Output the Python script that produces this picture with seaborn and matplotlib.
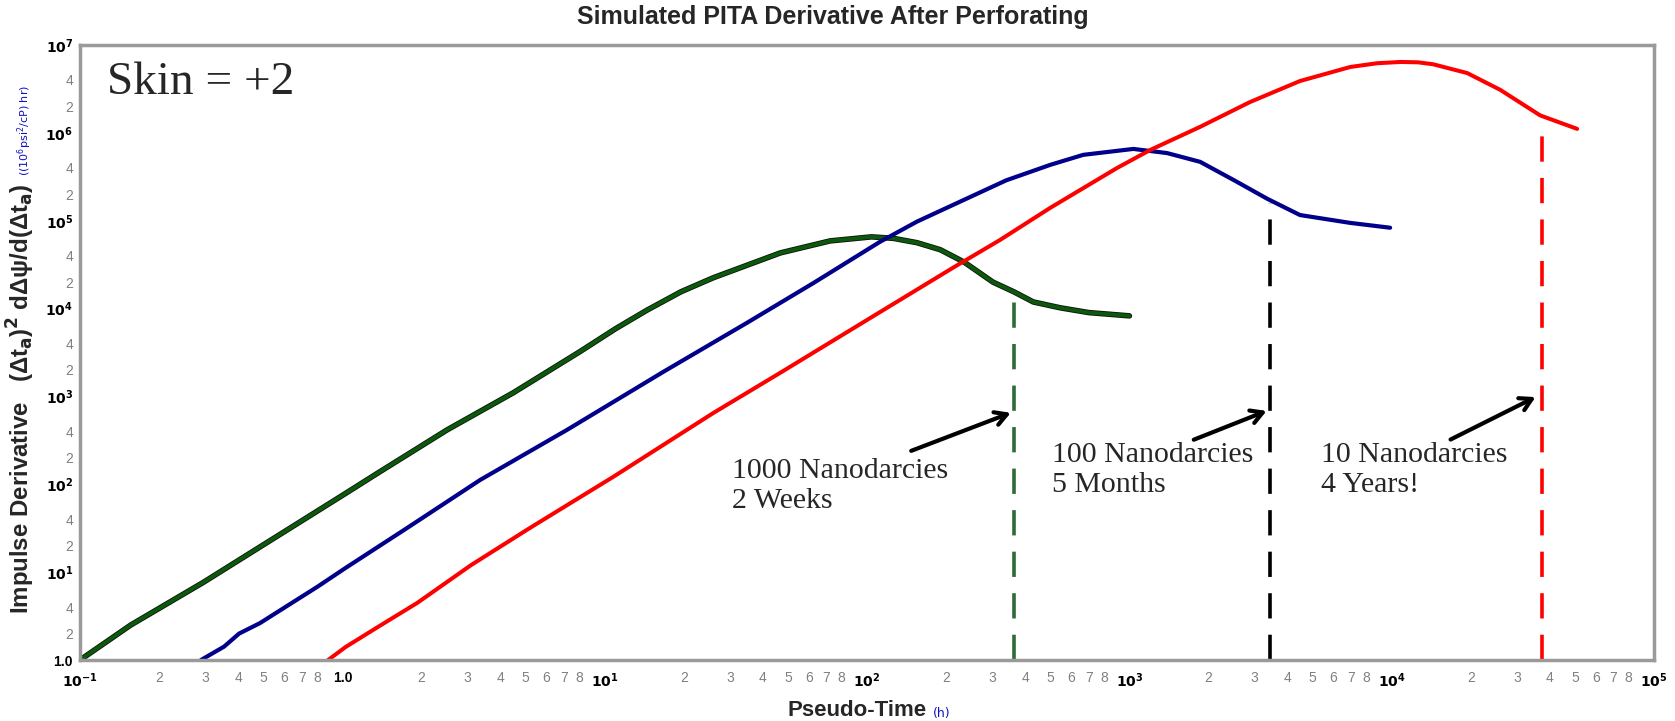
import matplotlib
matplotlib.use("Agg")
import matplotlib.pyplot as plt
import matplotlib.patheffects as pe
import pandas as pd
import seaborn as sns

# (pseudo-time in h, impulse derivative)
green_t = [0.1, 0.156, 0.294, 1.03, 1.39, 2.51, 4.48, 8.05, 11.0, 14.5, 19.5, 25.9, 46.7, 72.3,
           104, 126, 155, 190, 234, 302, 363, 430, 545, 700, 1000]
green_d = [1.0, 2.5, 7.6, 79, 139, 417, 1100, 3240, 5900, 9600, 15500, 22400, 43000, 58900,
           65500, 63000, 56200, 46800, 33900, 20000, 15500, 11900, 10200, 9000, 8260]

blue_t = [0.289, 0.354, 0.404, 0.485, 0.802, 1.03, 1.77, 3.35, 7.19, 16.7, 34.9, 62.4, 112,
          155, 339, 499, 667, 1035, 1390, 1860, 2510, 3350, 4470, 6950, 9860]
blue_d = [1.0, 1.42, 2.0, 2.63, 6.8, 11.2, 32, 112, 417, 1900, 6900, 19500, 57500,
          97700, 288000, 432000, 562000, 656000, 589000, 468000, 288000, 178000, 116000,
          94400, 83200]

red_t = [0.882, 1.03, 1.37, 1.93, 3.09, 5.2, 10.8, 25.9, 46.7, 112, 214, 321, 499, 897,
         1200, 1860, 2880, 4470, 6950, 8800, 10800, 12600, 14400, 19400, 25900, 36800, 50900]
red_d = [1.0, 1.41, 2.39, 4.47, 12.0, 32, 122, 646, 1860, 9120, 29500, 60300, 140000,
         398000, 638000, 1.17e6, 2.24e6, 3.89e6, 5.62e6, 6.2e6, 6.41e6, 6.35e6, 6.03e6,
         4.79e6, 3.09e6, 1.58e6, 1.11e6]

# end of radial flow markers (dashed lines)
mark_t = [363, 3440, 37500]
mark_top = [12600, 158000, 1.28e6]
mark_col = ["#2e6b37", "#000000", "#ff0000"]

labels = ["1000 Nanodarcies\n2 Weeks", "100 Nanodarcies\n5 Months", "10 Nanodarcies\n4 Years!"]

sns.set_theme(style="white")
plt.rcParams["font.family"] = ["Liberation Sans", "DejaVu Sans"]

fig = plt.figure(figsize=(16.75, 7.21), dpi=100)
ax = fig.add_axes([0.0478, 0.0846, 0.9397, 0.853])

df_g = pd.DataFrame({"t": green_t, "d": green_d})
df_b = pd.DataFrame({"t": blue_t, "d": blue_d})
df_r = pd.DataFrame({"t": red_t, "d": red_d})

sns.lineplot(data=df_g, x="t", y="d", ax=ax, color="#0b5a0b", lw=2.8, estimator=None,
             path_effects=[pe.withStroke(linewidth=4.0, foreground="#101010")])
sns.lineplot(data=df_b, x="t", y="d", ax=ax, color="#00008b", lw=3.0, estimator=None)
sns.lineplot(data=df_r, x="t", y="d", ax=ax, color="#ff0000", lw=2.9, estimator=None)

for t, top, c in zip(mark_t, mark_top, mark_col):
    ax.vlines(t, 1.0, top, colors=c, lw=2.6, linestyles=(0, (7, 4.5)))

ax.set_xscale("log")
ax.set_yscale("log")
ax.set_xlim(0.1, 1e5)
ax.set_ylim(1.0, 1e7)
ax.set_xlabel("")
ax.set_ylabel("")

# ticks
sup = {-1: "$\\mathbf{10^{-1}}$", 0: "1.0"}
xmaj = [10.0 ** k for k in range(-1, 6)]
ax.set_xticks(xmaj, labels=[sup.get(k, "$\\mathbf{10^{%d}}$" % k) for k in range(-1, 6)])
xmin = [m * 10.0 ** k for k in range(-1, 5) for m in range(2, 10)]
ax.set_xticks(xmin, labels=[str(m) if m < 9 else "" for k in range(-1, 5) for m in range(2, 10)],
              minor=True)
ymaj = [10.0 ** k for k in range(0, 8)]
ax.set_yticks(ymaj, labels=["1.0"] + ["$\\mathbf{10^{%d}}$" % k for k in range(1, 8)])
ymin = [m * 10.0 ** k for k in range(0, 7) for m in range(2, 10)]
ax.set_yticks(ymin, labels=[str(m) if m in (2, 4) else "" for k in range(0, 7) for m in range(2, 10)],
              minor=True)

ax.tick_params(which="major", direction="in", length=9, width=1.2, color="#909090",
               labelsize=10, labelcolor="black", pad=8)
ax.tick_params(which="minor", direction="in", length=6, width=1.0, color="#b8b8b8",
               labelsize=10, labelcolor="#808080", pad=8)
ax.tick_params(axis="y", which="both", pad=5)
for lab in ax.get_xticklabels() + ax.get_yticklabels():
    lab.set_fontweight("bold")

for s in ax.spines.values():
    s.set_color("#9a9a9a")
    s.set_linewidth(2.5)

# arrows + notes
arrows = [((144, 234), (361, 668)), ((1720, 313), (3410, 703)), ((16400, 313), (36100, 1016))]
text_pos = [(30.6, 200), (508, 300), (5380, 300)]
for (tail, head), (tx, ty), s in zip(arrows, text_pos, labels):
    ax.annotate("", xy=head, xytext=tail,
                arrowprops=dict(arrowstyle="->,head_length=0.7,head_width=0.4", color="black", lw=3))
    ax.text(tx, ty, s, fontsize=21.5, family="Liberation Serif", va="top", ha="left",
            linespacing=1.2)

fig.text(107 / 1675, 1 - 83 / 721, "Skin = +2", fontsize=34, family="Liberation Serif",
         va="center", ha="left")

fig.text(833 / 1675, 1 - 17 / 721, "Simulated PITA Derivative After Perforating",
         fontsize=18, fontweight="bold", ha="center", va="center")

fig.text(927 / 1675, 1 - 710 / 721, "Pseudo-Time", fontsize=16, fontweight="bold",
         ha="right", va="center")
fig.text(933 / 1675, 1 - 713 / 721, "(h)", fontsize=9, family="DejaVu Sans", color="#1010c0",
         ha="left", va="center")

fig.text(21 / 1675, 1 - 614 / 721,
         "Impulse Derivative   (Δt$_\\mathbf{a}$)$^\\mathbf{2}$ dΔψ/d(Δt$_\\mathbf{a}$)",
         fontsize=17.3, fontweight="bold", rotation=90, ha="center", va="bottom")
fig.text(25 / 1675, 1 - 176 / 721, "((10$^6$psi$^2$/cP) hr)", fontsize=8, family="DejaVu Sans",
         color="#1010c0", rotation=90, ha="center", va="bottom")

fig.savefig("out.png", dpi=100)
